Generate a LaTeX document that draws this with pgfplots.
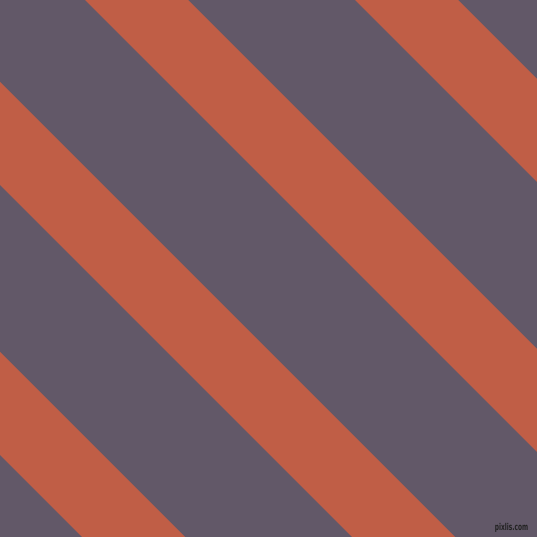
\documentclass[border=0pt]{standalone}
\usepackage{pgfplots}
\pgfplotsset{compat=1.18}
\usepackage{fontspec}
\setmainfont{DejaVu Sans}
\definecolor{bg}{HTML}{625868}
\definecolor{stripe}{HTML}{C05E46}
\definecolor{mark}{HTML}{222222}
\begin{document}
\begin{tikzpicture}
\begin{axis}[
	scale only axis,
	width = 10cm,
	height = 10cm,
	xmin = 0, xmax = 537,
	ymin = 0, ymax = 537,
	y dir = reverse,
	hide axis,
	clip = true
]
% background
\addplot[fill = bg, draw = none] coordinates {
	(0, 0) (537, 0) (537, 537) (0, 537)
};
% stripes, each the band a <= x - y <= a + 103
\addplot[fill = stripe, draw = none] coordinates {
	(-455, 0) (-352, 0) (348, 700) (245, 700)
};
\addplot[fill = stripe, draw = none] coordinates {
	(-185, 0) (-82, 0) (618, 700) (515, 700)
};
\addplot[fill = stripe, draw = none] coordinates {
	(85, 0) (188, 0) (888, 700) (785, 700)
};
\addplot[fill = stripe, draw = none] coordinates {
	(355, 0) (458, 0) (1158, 700) (1055, 700)
};
\node[font = \fontsize{5}{5}\selectfont\bfseries, text = mark, anchor = base,
	inner sep = 0pt]
	at (axis cs:511.5, 531) {\scalebox{0.62}[1]{pixlis.com}};
\end{axis}
\end{tikzpicture}
\end{document}
